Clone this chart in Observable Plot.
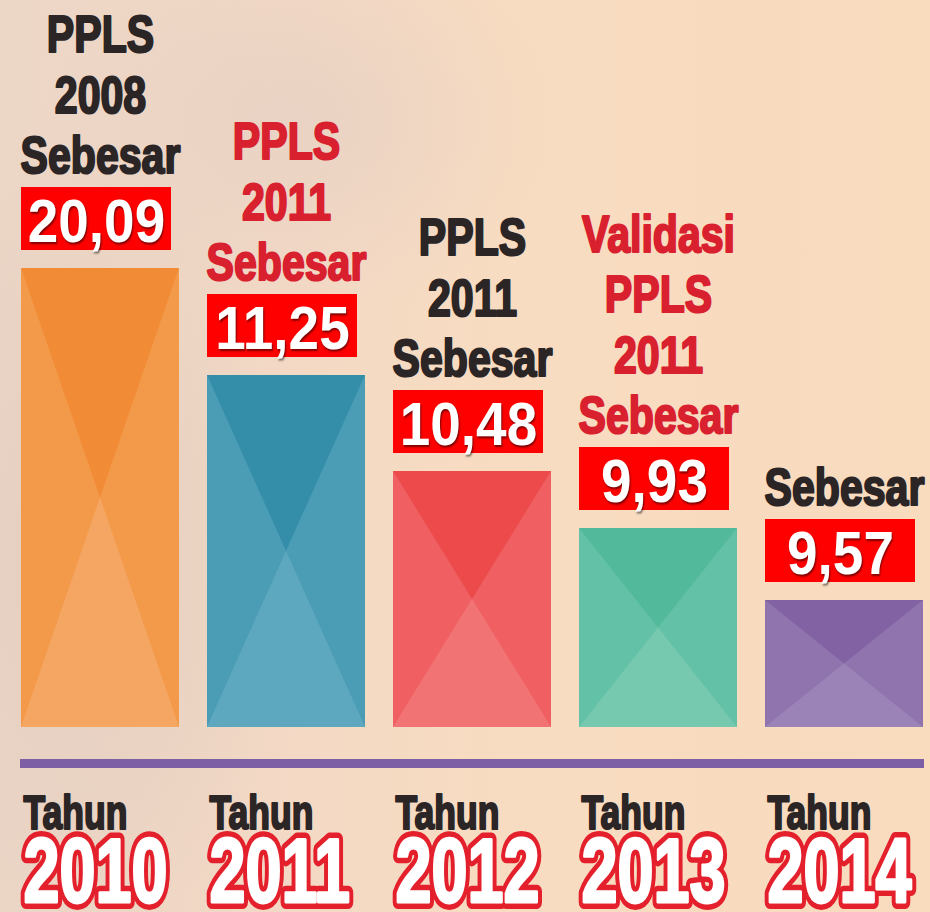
<!DOCTYPE html>
<html><head><meta charset="utf-8">
<script src="https://cdn.jsdelivr.net/npm/d3@7"></script>
<script src="https://cdn.jsdelivr.net/npm/@observablehq/plot@0.6"></script>
<style>
html,body{margin:0;padding:0;}
body{width:930px;height:912px;overflow:hidden;
background:
 radial-gradient(ellipse 260px 200px at 300px 120px, rgba(225,205,195,0.55), rgba(225,205,195,0) 100%),
 radial-gradient(ellipse 220px 420px at 90px 560px, rgba(215,195,185,0.45), rgba(215,195,185,0) 100%),
 linear-gradient(90deg, #ecd6c6 0%, #f3d9c5 30%, #f8dcc1 55%, #f9dbbe 100%);}
#chart svg{display:block;}
g[aria-description="values"] text{ text-shadow: 1px 2px 2px rgba(0,0,0,0.5); }
</style></head>
<body><div id="chart"></div>
<script>
// ---- data ----
const years = ["2010", "2011", "2012", "2013", "2014"];
const values = [20.09, 11.25, 10.48, 9.93, 9.57];
const valueLabels = ["20,09", "11,25", "10,48", "9,93", "9,57"];
const headings = ["PPLS\n2008\nSebesar", "PPLS\n2011\nSebesar", "PPLS\n2011\nSebesar", "Validasi\nPPLS\n2011\nSebesar", "Sebesar"];
const headingColors = ["#2b2526", "#d9202f", "#2b2526", "#d9202f", "#2b2526"];
const barMid = ["#f39a4a", "#4a9db5", "#f06062", "#62c1a6", "#8f74ae"];
const barTop = ["#f28b35", "#348eaa", "#ec4a4b", "#52b99b", "#8262a2"];
const barBottom = ["#f5a662", "#5ea8bf", "#f27373", "#76c9ae", "#9b83b8"];

const data = years.map((year, i) => ({
  year, value: values[i], label: valueLabels[i], heading: headings[i],
  hcolor: headingColors[i], fill: `url(#bar-${year})`
}));

const font = "Liberation Sans, Arial, sans-serif";

const yearText = {x: "year", frameAnchor: "bottom", text: "year", textAnchor: "start", lineAnchor: "bottom",
  dx: -77, dy: 174, strokeLinejoin: "round", fontSize: 90, fontWeight: "bold", fontFamily: font, ariaDescription: "years"};

const plot = Plot.plot({
  width: 930, height: 912,
  marginLeft: 20, marginRight: 6, marginTop: 0, marginBottom: 185,
  style: {background: "transparent", overflow: "visible"},
  x: {domain: years, axis: null, paddingInner: 0.153, paddingOuter: 0},
  // the infographic's bar heights are not proportional: piecewise-linear value scale
  y: {type: "linear", axis: null, domain: [0, 9.57, 9.93, 10.48, 11.25, 20.09], range: [727, 600, 528, 471, 375, 268]},
  color: {type: "identity"},
  marks: [
    Plot.barY(data, {x: "year", y: "value", fill: "fill"}),
    Plot.barY(data, {x: "year", y1: "value", y2: "value", fill: "#fe0000", insetTop: -81, insetBottom: 18, insetRight: 8}),
    Plot.text(data, {x: "year", y: "value", text: "label", fill: "white", dx: -4, dy: -27,
      lineAnchor: "bottom", fontSize: 61, fontWeight: "bold", fontFamily: font, ariaDescription: "values"}),
    Plot.text(data, {x: "year", y: "value", text: "heading", fill: "hcolor", stroke: "hcolor", strokeWidth: 2.2,
      lineAnchor: "bottom", lineHeight: 1.154, dy: -96, fontSize: 52, fontWeight: "bold", fontFamily: font, ariaDescription: "headings"}),
    Plot.ruleY([0], {stroke: "#7d5fa5", strokeWidth: 9, dy: 36}),
    Plot.text(data, {x: "year", frameAnchor: "bottom", text: () => "Tahun", textAnchor: "start", lineAnchor: "bottom",
      dx: -77, dy: 101, fill: "#2b2526", stroke: "#2b2526", strokeWidth: 2.2, fontSize: 48, fontWeight: "bold", fontFamily: font, ariaDescription: "tahun"}),
    Plot.text(data, {...yearText, fill: "#e3202b", stroke: "#e3202b", strokeWidth: 14}),
    Plot.text(data, {...yearText, fill: "white", stroke: "white", strokeWidth: 3})
  ]
});

const svg = d3.select(plot);
// condensed lettering: horizontal squeeze of each text about its anchor
const squeeze = {values: 0.9, headings: 0.79, tahun: 0.74, years: 0.72};
Object.entries(squeeze).forEach(([k, s]) => {
  svg.selectAll(`g[aria-description="${k}"] text`).each(function() {
    const t = this.getAttribute("transform") || "";
    this.setAttribute("transform", `${t} scale(${s},1)`);
  });
});

// bar shading patterns (X-shaped facets)
const defs = svg.insert("defs", ":first-child");
years.forEach((y, i) => {
  const p = defs.append("pattern").attr("id", `bar-${y}`)
    .attr("patternUnits", "objectBoundingBox").attr("patternContentUnits", "objectBoundingBox")
    .attr("width", 1).attr("height", 1);
  p.append("rect").attr("width", 1).attr("height", 1).attr("fill", barMid[i]);
  p.append("polygon").attr("points", "0,0 1,0 0.5,0.5").attr("fill", barTop[i]);
  p.append("polygon").attr("points", "0,1 1,1 0.5,0.5").attr("fill", barBottom[i]);
});

document.getElementById("chart").appendChild(plot);
</script></body></html>
